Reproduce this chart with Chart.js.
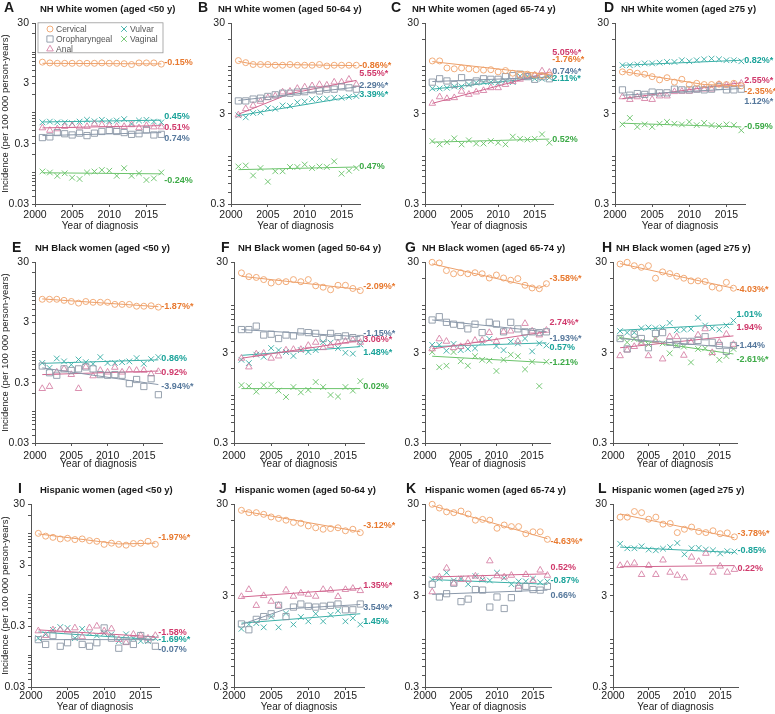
<!DOCTYPE html>
<html>
<head>
<meta charset="utf-8">
<script src="https://cdn.jsdelivr.net/npm/chart.js@4.4.1/dist/chart.umd.min.js"></script>
<style>
  body { margin: 0; width: 775px; height: 714px; overflow: hidden; background: #fff; position: relative;
         font-family: "Liberation Sans", Arial, sans-serif; }
  canvas { position: absolute; }
  .lt { position: absolute; font-weight: bold; font-size: 14px; line-height: 1; color: #1a1a1a; }
  .tt { position: absolute; font-weight: bold; font-size: 9.5px; line-height: 1; color: #1a1a1a; white-space: nowrap; }
</style>
</head>
<body>
<script>
// ---- data ----

const years = [2001, 2002, 2003, 2004, 2005, 2006, 2007, 2008, 2009, 2010, 2011, 2012, 2013, 2014, 2015, 2016, 2017];
const xTicks = [2000, 2005, 2010, 2015];
const seriesNames = ['Cervical', 'Oropharyngeal', 'Anal', 'Vulvar', 'Vaginal'];

// A: NH White women <50
const cervA = [6.8, 6.6, 6.5, 6.5, 6.5, 6.5, 6.5, 6.5, 6.6, 6.5, 6.5, 6.4, 6.2, 6.6, 6.6, 6.6, 6.3];
const oroA = [0.38, 0.39, 0.46, 0.44, 0.42, 0.45, 0.41, 0.45, 0.48, 0.50, 0.48, 0.46, 0.43, 0.44, 0.51, 0.42, 0.43];
const analA = [0.55, 0.50, 0.53, 0.58, 0.60, 0.57, 0.58, 0.64, 0.62, 0.60, 0.58, 0.58, 0.62, 0.55, 0.60, 0.57, 0.57];
const vulA = [0.68, 0.70, 0.68, 0.68, 0.66, 0.70, 0.75, 0.71, 0.75, 0.71, 0.73, 0.77, 0.64, 0.73, 0.75, 0.70, 0.68];
const vagA = [0.104, 0.10, 0.088, 0.097, 0.082, 0.078, 0.10, 0.104, 0.11, 0.107, 0.088, 0.118, 0.088, 0.097, 0.075, 0.08, 0.10];
const trendA = [[2001, 6.5, 2017, 6.35], [2001, 0.41, 2017, 0.46], [2001, 0.55, 2017, 0.60], [2001, 0.69, 2017, 0.74], [2001, 0.099, 2017, 0.095]];
const apcA = ['-0.15%', '0.74%', '0.51%', '0.45%', '-0.24%'];

// B: NH White women 50-64
const cervB = [11.6, 11.0, 10.5, 10.5, 10.5, 10.3, 10.3, 10.5, 10.3, 10.3, 10.3, 10.5, 10.1, 10.3, 10.3, 10.3, 10.3];
const oroB = [4.15, 4.15, 4.35, 4.45, 4.65, 4.85, 5.05, 5.05, 5.2, 5.25, 5.5, 5.35, 5.6, 5.6, 5.95, 5.8, 5.6];
const analB = [2.9, 3.4, 3.7, 4.1, 4.5, 4.7, 5.2, 5.3, 5.7, 5.9, 6.1, 6.3, 6.2, 6.7, 6.7, 7.2, 6.3];
const vulB = [2.87, 2.73, 3.05, 3.1, 3.45, 3.4, 3.7, 3.65, 4.0, 4.08, 4.35, 4.4, 4.4, 4.5, 4.5, 4.6, 4.7];
const vagB = [0.78, 0.80, 0.62, 0.75, 0.53, 0.69, 0.69, 0.77, 0.77, 0.82, 0.75, 0.78, 0.77, 0.89, 0.65, 0.70, 0.75];
const trendB = [[2001, 11.4, 2003, 10.6, 2017, 10.2], [2001, 4.2, 2017, 5.9], [2001, 2.95, 2008, 5.0, 2017, 7.0], [2001, 2.85, 2017, 4.7], [2001, 0.72, 2017, 0.77]];
const apcB = ['-0.86%*', '2.29%*', '5.55%*', '3.39%*', '0.47%'];

// C: NH White women 65-74
const cervC = [11.5, 11.5, 9.6, 9.4, 9.6, 9.4, 9.2, 9.1, 9.2, 8.7, 9.0, 8.4, 8.0, 8.2, 8.0, 7.9, 8.0];
const oroC = [6.7, 7.3, 6.9, 6.3, 7.5, 6.6, 6.9, 7.3, 7.2, 7.2, 7.7, 7.9, 8.2, 7.7, 7.2, 7.7, 7.3];
const analC = [3.9, 4.6, 4.4, 4.5, 5.3, 4.9, 5.2, 5.4, 5.8, 5.8, 6.3, 6.8, 7.2, 7.8, 8.0, 8.9, 8.6];
const vulC = [5.7, 5.7, 5.8, 6.0, 6.0, 6.3, 6.6, 6.7, 6.7, 6.6, 6.9, 6.7, 7.8, 7.8, 7.3, 7.3, 7.5];
const vagC = [1.49, 1.37, 1.45, 1.6, 1.37, 1.52, 1.40, 1.40, 1.49, 1.43, 1.37, 1.67, 1.58, 1.55, 1.58, 1.77, 1.43];
const trendC = [[2001, 11.3, 2017, 8.1], [2001, 6.8, 2017, 7.6], [2001, 3.9, 2017, 8.6], [2001, 5.6, 2017, 7.7], [2001, 1.45, 2017, 1.57]];
const apcC = ['-1.76%*', '0.74%*', '5.05%*', '2.11%*', '0.52%'];

// D: NH White women >=75
const cervD = [8.7, 8.6, 8.4, 8.2, 7.7, 7.1, 7.5, 6.7, 7.2, 6.3, 6.5, 6.3, 6.3, 6.35, 6.3, 6.5, 6.1];
const oroD = [5.5, 4.8, 5.0, 4.9, 5.2, 5.1, 5.1, 5.6, 5.5, 5.5, 5.6, 5.5, 5.6, 6.0, 5.5, 5.5, 5.6];
const analD = [4.6, 4.3, 4.6, 4.4, 4.3, 4.7, 4.7, 5.25, 5.3, 5.3, 5.5, 5.6, 5.6, 6.3, 6.2, 6.3, 6.5];
const vulD = [10.3, 10.3, 10.5, 10.8, 10.8, 11.0, 11.2, 11.2, 11.7, 11.4, 11.7, 12.0, 12.2, 12.0, 11.7, 11.7, 11.4];
const vagD = [2.28, 2.69, 2.14, 2.28, 2.14, 2.32, 2.43, 2.32, 2.28, 2.43, 2.24, 2.37, 2.24, 2.19, 2.28, 2.24, 1.96];
const trendD = [[2001, 8.8, 2012, 6.3, 2017, 6.1], [2001, 4.8, 2017, 5.7], [2001, 4.4, 2017, 6.6], [2001, 10.3, 2017, 11.7], [2001, 2.35, 2017, 2.14]];
const apcD = ['-2.35%*', '1.12%*', '2.55%*', '0.82%*', '-0.59%'];

// E: NH Black women <50
const cervE = [7.3, 7.3, 7.3, 7.0, 6.7, 6.3, 6.7, 6.5, 6.5, 6.5, 6.0, 6.0, 6.0, 5.6, 5.6, 5.7, 5.4];
const oroE = [0.57, 0.44, 0.40, 0.51, 0.48, 0.51, 0.55, 0.51, 0.41, 0.40, 0.41, 0.40, 0.29, 0.34, 0.26, 0.35, 0.19];
const analE = [0.24, 0.26, 0.45, 0.51, 0.41, 0.24, 0.55, 0.39, 0.48, 0.45, 0.54, 0.45, 0.49, 0.48, 0.48, 0.42, 0.46];
const vulE = [0.64, 0.53, 0.76, 0.68, 0.60, 0.73, 0.66, 0.62, 0.80, 0.64, 0.64, 0.66, 0.68, 0.77, 0.62, 0.74, 0.80];
const trendE = [[2001, 7.4, 2017, 5.5], [2001, 0.53, 2017, 0.28], [2001, 0.41, 2017, 0.47], [2001, 0.63, 2017, 0.72], null];
const apcE = ['-1.87%*', '-3.94%*', '0.92%', '0.86%', null];

// F: NH Black women 50-64
const cervF = [22.9, 20.8, 20.4, 19.3, 17.7, 18.3, 18.3, 19.3, 18.3, 19.3, 16.5, 15.9, 14.9, 16.7, 16.7, 15.4, 14.6];
const oroF = [5.4, 5.4, 5.9, 4.7, 4.8, 4.3, 4.7, 4.6, 5.1, 5.0, 4.9, 4.3, 4.9, 4.5, 4.6, 4.4, 4.3];
const analF = [2.6, 2.08, 2.9, 2.95, 2.6, 2.75, 3.2, 3.25, 3.25, 3.6, 3.9, 3.4, 3.6, 3.85, 4.0, 4.13, 3.9];
const vulF = [2.5, 2.3, 2.85, 2.7, 3.37, 3.2, 3.05, 2.76, 3.2, 3.05, 3.2, 3.93, 3.87, 3.37, 2.99, 2.92, 3.7];
const vagF = [1.31, 1.28, 1.11, 1.31, 1.33, 1.14, 0.97, 1.25, 1.09, 1.16, 1.42, 1.25, 1.02, 0.98, 1.25, 1.14, 1.45];
const trendF = [[2001, 21, 2017, 15], [2001, 5.4, 2017, 4.5], [2001, 2.6, 2017, 4.1], [2001, 2.8, 2017, 3.5], [2001, 1.2, 2017, 1.2]];
const apcF = ['-2.09%*', '-1.15%*', '3.06%*', '1.48%*', '0.02%'];

// G: NH Black women 65-74
const cervG = [30, 29.5, 24.3, 22.4, 23, 22.4, 23, 22.4, 20.1, 21.7, 20.1, 19, 19.8, 16.7, 15.6, 15.3, 17.4];
const oroG = [6.9, 7.5, 6.5, 6.2, 6.0, 5.5, 6.2, 5.0, 6.5, 6.2, 5.1, 6.5, 5.5, 5.1, 5.1, 5.0, 5.1];
const analG = [3.3, 4.26, 4.0, 3.4, 3.5, 3.8, 4.1, 4.1, 5.0, 3.99, 5.1, 5.2, 4.0, 6.3, 5.2, 4.7, 5.3];
const vulG = [3.66, 3.66, 3.15, 3.75, 3.2, 3.3, 3.35, 3.9, 4.26, 3.55, 3.2, 4.0, 3.8, 4.3, 3.1, 3.8, 3.6];
const vagG = [3.05, 2.07, 2.15, 3.05, 2.41, 2.15, 2.74, 2.5, 2.44, 1.88, 2.5, 2.85, 2.74, 1.96, 2.38, 1.28, 2.38];
const trendG = [[2001, 28.8, 2016, 15.5, 2017, 17.0], [2001, 6.9, 2017, 5.1], [2001, 3.3, 2017, 5.1], [2001, 3.5, 2017, 3.85], [2001, 2.74, 2017, 2.33]];
const apcG = ['-3.58%*', '-1.93%*', '2.74%*', '0.57%', '-1.21%'];

// H: NH Black women >=75
const cervH = [28.7, 30, 27.5, 26.4, 27.5, 20, 23.5, 22.5, 21, 20, 18.7, 18.7, 18.4, 16, 15.5, 18, 15.5];
const oroH = [4.3, 3.3, 4.8, 4.3, 3.4, 4.9, 5.0, 3.9, 3.7, 4.0, 4.0, 4.1, 4.5, 3.9, 3.6, 3.1, 3.6];
const analH = [2.77, 3.2, 3.5, 3.85, 2.77, 4.1, 2.55, 4.5, 4.5, 2.8, 3.9, 4.7, 5.5, 3.0, 3.9, 4.8, 3.7];
const vulH = [5.2, 5.0, 5.0, 5.6, 5.7, 5.6, 5.7, 6.4, 5.3, 5.4, 5.5, 7.3, 6.0, 5.6, 5.4, 6.0, 6.8];
const vagH = [4.4, 3.9, 4.25, 3.95, 3.7, 4.25, 3.8, 2.95, 3.6, 3.5, 2.34, 3.3, 3.35, 2.95, 2.5, 2.75, 3.3];
const trendH = [[2001, 29, 2017, 15.5], [2001, 4.3, 2017, 3.4], [2001, 3.4, 2017, 4.6], [2001, 5.3, 2017, 6.2], [2001, 4.4, 2017, 2.9]];
const apcH = ['-4.03%*', '-1.44%', '1.94%', '1.01%', '-2.61%*'];

// I: Hispanic women <50
const cervI = [10.0, 9.0, 8.6, 8.1, 8.3, 7.9, 8.1, 7.6, 7.4, 6.6, 6.9, 6.6, 6.4, 6.8, 6.9, 7.4, 6.6];
const oroI = [0.18, 0.15, 0.21, 0.14, 0.16, 0.21, 0.15, 0.14, 0.16, 0.28, 0.19, 0.13, 0.17, 0.15, 0.21, 0.18, 0.14];
const analI = [0.25, 0.21, 0.26, 0.26, 0.25, 0.28, 0.20, 0.28, 0.30, 0.25, 0.27, 0.18, 0.16, 0.22, 0.21, 0.19, 0.21];
const vulI = [0.19, 0.22, 0.26, 0.29, 0.28, 0.19, 0.27, 0.23, 0.21, 0.23, 0.22, 0.17, 0.22, 0.19, 0.17, 0.17, 0.19];
const trendI = [[2001, 9.8, 2012, 6.7, 2017, 6.9], [2001, 0.18, 2017, 0.18], [2001, 0.26, 2017, 0.20], [2001, 0.24, 2017, 0.18], null];
const apcI = ['-1.97%*', '-0.07%', '-1.58%', '-1.69%*', null];

// J: Hispanic women 50-64
const cervJ = [25.8, 24.3, 24.3, 23.3, 21.8, 21.0, 20.1, 19.0, 18.6, 17.4, 16.6, 16.0, 16.3, 16.6, 15.4, 16.0, 14.7];
const oroJ = [1.47, 1.27, 1.65, 1.77, 1.9, 2.35, 1.77, 2.25, 2.43, 2.3, 2.25, 2.3, 2.35, 2.43, 2.1, 2.1, 2.43];
const analJ = [2.93, 3.5, 2.34, 3.0, 2.6, 2.35, 3.45, 2.95, 3.2, 3.1, 2.95, 3.5, 3.45, 2.93, 3.5, 3.6, 3.4];
const vulJ = [1.3, 1.45, 1.5, 1.35, 1.77, 1.35, 1.92, 1.45, 1.75, 1.57, 1.9, 1.57, 1.85, 2.05, 1.57, 1.7, 1.45];
const trendJ = [[2001, 25.5, 2017, 15], [2001, 1.45, 2007, 2.15, 2017, 2.4], [2001, 2.9, 2017, 3.6], [2001, 1.5, 2017, 1.9], null];
const apcJ = ['-3.12%*', '3.54%*', '1.35%*', '1.45%', null];

// K: Hispanic women 65-74
const cervK = [30, 27.3, 24.8, 24.3, 25.3, 23.5, 20.1, 20.5, 20.1, 16.4, 17.8, 17.1, 17.1, 14.3, 15.0, 15.0, 12.4];
const oroK = [4.0, 2.9, 3.15, 4.1, 2.58, 2.75, 3.5, 3.45, 2.25, 2.9, 2.17, 2.85, 3.6, 3.8, 3.5, 3.45, 3.8];
const analK = [3.3, 4.8, 6.0, 4.1, 4.5, 4.5, 4.9, 4.6, 7.2, 4.95, 4.8, 5.0, 3.8, 5.1, 4.4, 5.7, 5.0];
const vulK = [4.5, 4.6, 5.35, 4.4, 4.6, 4.0, 4.9, 4.5, 4.4, 5.35, 4.7, 4.0, 4.3, 4.3, 4.6, 4.2, 4.3];
const trendK = [[2001, 29, 2017, 12.6], [2001, 3.1, 2017, 3.45], [2001, 4.8, 2017, 5.2], [2001, 4.5, 2017, 4.0], null];
const apcK = ['-4.63%*', '0.66%', '0.52%', '-0.87%', null];

// L: Hispanic women >=75
const cervL = [21.7, 21.7, 25, 24.3, 20.6, 21.7, 18.2, 18.5, 14.7, 16.0, 16.9, 15.1, 14.7, 15.4, 14.3, 14.6, 13.2];
const analL = [6.4, 6.6, 6.8, 5.1, 6.4, 5.1, 7.35, 5.4, 5.0, 4.7, 7.9, 7.1, 8.7, 5.4, 6.3, 5.4, 5.8];
const vulL = [11.1, 9.9, 9.9, 10.4, 9.6, 9.4, 9.8, 10.2, 11.3, 8.5, 9.9, 10.0, 9.6, 9.4, 8.7, 9.2, 9.1];
const trendL = [[2001, 23.5, 2017, 12.9], null, [2001, 6.2, 2017, 6.4], [2001, 10.2, 2017, 8.9], null];
const apcL = ['-3.78%*', null, '0.22%', '-0.85%', null];

// label nudges in px (cervical, oropharyngeal, anal, vulvar, vaginal)
const shift = {
  A: [-1.6, 5.5, 1.4, -3.8, 6.7], B: [0, -1.8, -6.5, -1.3, 0], C: [-15, -6, -20, 1.5, 0], D: [6, 12.6, -2.6, 0, 0],
  E: [0, 1.5, 1, -1, 0], F: [-3.3, -3, -1, 6, -1.7], G: [-6, 6.4, -9.6, 4.6, 0], H: [1, -2, -8.4, -10, 6],
  I: [-6, 10, -4, 0, 0], J: [-6, 2.8, -2.7, 7.5, 0], K: [3, 5.9, -6.8, -3.3, 0], L: [-4.3, 0, 2.5, -1.7, 0]
};

// ---- styles ----
const STYLE = [
  { shape: 'circle', r: 3, color: '#F0A46C', line: '#EDA06A', text: '#E8792F' },
  { shape: 'rect', r: 4.4, color: '#8C97A6', line: '#8A98AA', text: '#56789C' },
  { shape: 'triangle', r: 3.8, color: '#D783A7', line: '#D2668F', text: '#D03A6C' },
  { shape: 'crossRot', r: 4, color: '#35ADA5', line: '#3BB0A8', text: '#1BA39A' },
  { shape: 'crossRot', r: 4, color: '#66C266', line: '#6CC46C', text: '#3DAA47' }
];
const ROW_TOP = [22, 261, 503];
const ROW_BOT = [204, 443, 687];
const ROW_BASE = [12, 251.5, 493];
const ROW_TICKPAD = [2, 4, 0];
const ROW_TITLEPAD = [3.5, 5, 6];

const panels = [
  { id: 'A', title: 'NH White women (aged <50 y)', min: 0.03, col: 0, row: 0, axisX: 35, plotW: 130, lx: 4, tx: 40, pts: [cervA, oroA, analA, vulA, vagA], trend: trendA, apc: apcA },
  { id: 'B', title: 'NH White women (aged 50-64 y)', min: 0.3, col: 1, row: 0, axisX: 231, plotW: 129, lx: 198, tx: 218, pts: [cervB, oroB, analB, vulB, vagB], trend: trendB, apc: apcB },
  { id: 'C', title: 'NH White women (aged 65-74 y)', min: 0.3, col: 2, row: 0, axisX: 425, plotW: 128, lx: 391, tx: 412, pts: [cervC, oroC, analC, vulC, vagC], trend: trendC, apc: apcC },
  { id: 'D', title: 'NH White women (aged \u226575 y)', min: 0.3, col: 3, row: 0, axisX: 615, plotW: 130, lx: 604, tx: 621, pts: [cervD, oroD, analD, vulD, vagD], trend: trendD, apc: apcD },
  { id: 'E', title: 'NH Black women (aged <50 y)', min: 0.03, col: 0, row: 1, axisX: 35, plotW: 127, lx: 12, tx: 35, pts: [cervE, oroE, analE, vulE, null], trend: trendE, apc: apcE },
  { id: 'F', title: 'NH Black women (aged 50-64 y)', min: 0.3, col: 1, row: 1, axisX: 234, plotW: 130, lx: 221, tx: 238, pts: [cervF, oroF, analF, vulF, vagF], trend: trendF, apc: apcF },
  { id: 'G', title: 'NH Black women (aged 65-74 y)', min: 0.3, col: 2, row: 1, axisX: 425, plotW: 125, lx: 405, tx: 422, pts: [cervG, oroG, analG, vulG, vagG], trend: trendG, apc: apcG },
  { id: 'H', title: 'NH Black women (aged \u226575 y)', min: 0.3, col: 3, row: 1, axisX: 613, plotW: 124, lx: 602, tx: 616, pts: [cervH, oroH, analH, vulH, vagH], trend: trendH, apc: apcH },
  { id: 'I', title: 'Hispanic women (aged <50 y)', min: 0.03, col: 0, row: 2, axisX: 31, plotW: 128, lx: 18, tx: 40, pts: [cervI, oroI, analI, vulI, null], trend: trendI, apc: apcI },
  { id: 'J', title: 'Hispanic women (aged 50-64 y)', min: 0.3, col: 1, row: 2, axisX: 234, plotW: 130, lx: 219, tx: 235, pts: [cervJ, oroJ, analJ, vulJ, null], trend: trendJ, apc: apcJ },
  { id: 'K', title: 'Hispanic women (aged 65-74 y)', min: 0.3, col: 2, row: 2, axisX: 425, plotW: 126, lx: 406, tx: 425, pts: [cervK, oroK, analK, vulK, null], trend: trendK, apc: apcK },
  { id: 'L', title: 'Hispanic women (aged \u226575 y)', min: 0.3, col: 3, row: 2, axisX: 613, plotW: 125, lx: 598, tx: 612, pts: [cervL, null, analL, vulL, null], trend: trendL, apc: apcL }
];

Chart.defaults.font.family = '"Liberation Sans", Arial, sans-serif';
Chart.defaults.color = '#222';

function logTicks(min, max) {
  const out = [];
  for (let e = -3; e <= 2; e++) {
    for (let m = 1; m <= 9; m++) {
      const v = +(m * Math.pow(10, e)).toPrecision(3);
      if (v >= min * 0.999 && v <= max * 1.001) out.push(v);
    }
  }
  return out;
}
function isMajor(v) {
  const l = Math.log10(v / 3);
  return Math.abs(l - Math.round(l)) < 1e-6;
}

function drawMarker(ctx, st, x, y) {
  const r = st.r;
  ctx.strokeStyle = st.color;
  ctx.lineWidth = 0.9;
  ctx.beginPath();
  if (st.shape === 'circle') {
    ctx.arc(x, y, r, 0, Math.PI * 2);
  } else if (st.shape === 'rect') {
    const s = r * Math.SQRT1_2;
    ctx.rect(x - s, y - s, 2 * s, 2 * s);
  } else if (st.shape === 'triangle') {
    let a = 0;
    ctx.moveTo(x + Math.sin(a) * r, y - Math.cos(a) * r);
    a += Math.PI * 2 / 3;
    ctx.lineTo(x + Math.sin(a) * r, y - Math.cos(a) * r);
    a += Math.PI * 2 / 3;
    ctx.lineTo(x + Math.sin(a) * r, y - Math.cos(a) * r);
    ctx.closePath();
  } else {
    const s = r * Math.SQRT1_2;
    ctx.moveTo(x - s, y - s); ctx.lineTo(x + s, y + s);
    ctx.moveTo(x - s, y + s); ctx.lineTo(x + s, y - s);
  }
  ctx.stroke();
}

// APC labels at the right end of each trend
const apcLabels = {
  id: 'apcLabels',
  afterDraw(chart, args, opts) {
    const { ctx, scales: { x, y } } = chart;
    ctx.save();
    ctx.font = 'bold 9px "Liberation Sans", Arial, sans-serif';
    ctx.textBaseline = 'middle';
    opts.items.forEach(it => {
      ctx.fillStyle = it.color;
      ctx.fillText(it.text, x.getPixelForValue(2017) + 3, y.getPixelForValue(it.end) + it.shift);
    });
    ctx.restore();
  }
};

// legend box only in panel A
const legendBox = {
  id: 'legendBox',
  afterDraw(chart, args, opts) {
    if (!opts.show) return;
    const { ctx, chartArea: ca } = chart;
    ctx.save();
    ctx.strokeStyle = '#999';
    ctx.lineWidth = 0.8;
    ctx.strokeRect(ca.left + 3, ca.top - 0.5, 125, 30);
    ctx.font = '8.5px "Liberation Sans", Arial, sans-serif';
    ctx.textBaseline = 'middle';
    const slots = [[15, 5.7], [15, 15.7], [15, 25.7], [89, 5.7], [89, 15.7]];
    seriesNames.forEach((name, i) => {
      const px = ca.left + slots[i][0], py = ca.top + slots[i][1];
      drawMarker(ctx, STYLE[i], px, py);
      ctx.fillStyle = '#555';
      ctx.fillText(name, px + 6, py + 0.5);
    });
    ctx.restore();
  }
};

panels.forEach(p => {
  const yW = p.col === 0 ? p.axisX : 30;
  const top = ROW_TOP[p.row], plotH = ROW_BOT[p.row] - top;
  const right = p.col === 3 ? 775 - (p.axisX + p.plotW) : 48;
  const W = Math.round(yW + p.plotW + right), H = 8 + plotH + 32;

  const cv = document.createElement('canvas');
  cv.width = W; cv.height = H;
  cv.style.left = (p.axisX - yW) + 'px';
  cv.style.top = (top - 8) + 'px';
  cv.style.width = W + 'px'; cv.style.height = H + 'px';
  document.body.appendChild(cv);

  const lt = document.createElement('div');
  lt.className = 'lt'; lt.textContent = p.id;
  lt.style.left = p.lx + 'px'; lt.style.top = (ROW_BASE[p.row] - 11.85) + 'px';
  document.body.appendChild(lt);
  const tt = document.createElement('div');
  tt.className = 'tt'; tt.textContent = p.title;
  tt.style.left = p.tx + 'px'; tt.style.top = (ROW_BASE[p.row] - 8.05) + 'px';
  document.body.appendChild(tt);

  const datasets = [];
  const items = [];
  p.pts.forEach((vals, i) => {
    if (!vals) return;
    const st = STYLE[i];
    const t = p.trend[i];
    const tPts = [];
    for (let k = 0; k < t.length; k += 2) tPts.push({ x: t[k], y: t[k + 1] });
    datasets.push({
      data: tPts, showLine: true, borderColor: st.line, borderWidth: 1,
      pointRadius: 0, clip: false
    });
    datasets.push({
      data: years.map((yr, j) => ({ x: yr, y: vals[j] })),
      showLine: false, pointStyle: st.shape, pointRadius: st.r,
      borderColor: st.color, backgroundColor: 'rgba(0,0,0,0)', borderWidth: 0.9, clip: false
    });
    if (p.apc[i]) items.push({ text: p.apc[i], color: st.text, end: t[t.length - 1], shift: shift[p.id][i] });
  });

  new Chart(cv, {
    type: 'scatter',
    data: { datasets },
    options: {
      responsive: false, animation: false, devicePixelRatio: 1,
      layout: { padding: { top: 8, left: 0, bottom: 0, right: W - yW - p.plotW } },
      plugins: {
        legend: { display: false }, tooltip: { enabled: false },
        apcLabels: { items },
        legendBox: { show: p.id === 'A' }
      },
      scales: {
        x: {
          type: 'linear', min: 2000, max: 2017.5,
          grid: { display: true, drawOnChartArea: false, drawTicks: true, tickLength: 3, color: '#555' },
          border: { display: true, color: '#555', width: 1 },
          ticks: { font: { size: 10.5 }, color: '#222', padding: ROW_TICKPAD[p.row], maxRotation: 0, autoSkip: false, callback: v => String(v) },
          afterBuildTicks: s => { s.ticks = xTicks.map(v => ({ value: v })); },
          afterFit: s => { s.height = 32; },
          title: { display: true, text: 'Year of diagnosis', font: { size: 10 }, color: '#222', padding: { top: 0, bottom: ROW_TITLEPAD[p.row] } }
        },
        y: {
          type: 'logarithmic', min: p.min, max: 30,
          grid: { display: true, drawOnChartArea: false, drawTicks: true, tickLength: 3, color: '#555' },
          border: { display: true, color: '#555', width: 1 },
          ticks: { font: { size: 10.5 }, color: '#222', padding: 3, autoSkip: false,
                   callback: v => isMajor(v) ? String(v) : '' },
          afterBuildTicks: s => { s.ticks = logTicks(p.min, 30).map(v => ({ value: v, major: isMajor(v) })); },
          afterFit: s => { s.width = yW; },
          title: { display: p.col === 0, text: 'Incidence (per 100 000 person-years)', font: { size: 9.5 }, color: '#222', padding: { top: 0, bottom: 0 } }
        }
      }
    },
    plugins: [apcLabels, legendBox]
  });
});
</script>
</body>
</html>
